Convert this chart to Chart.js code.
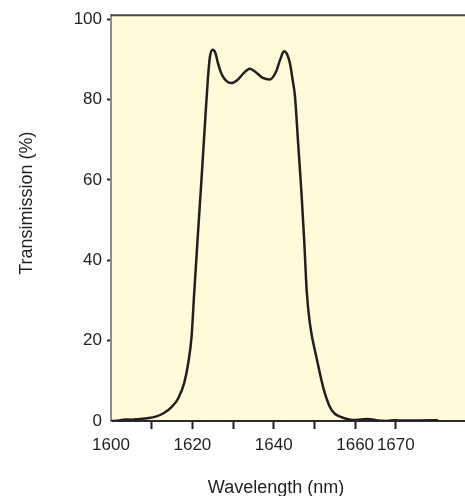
<!DOCTYPE html>
<html>
<head>
<meta charset="utf-8">
<script src="https://cdn.jsdelivr.net/npm/chart.js@4.4.0/dist/chart.umd.min.js"></script>
<style>
  html, body { margin: 0; padding: 0; background: #fff; }
  #wrap { width: 465px; height: 496px; }
</style>
</head>
<body>
<div id="wrap"><canvas id="chart" width="465" height="496"></canvas></div>
<script>
// Values
const wavelength = [
  1600, 1602, 1603.5, 1605, 1607, 1609, 1611, 1613, 1615, 1616.5,
  1618, 1619, 1619.8, 1620.4, 1621.2, 1622.2, 1623, 1623.8, 1624.3, 1625,
  1625.7, 1626.3, 1627.2, 1628.4, 1629.6, 1631, 1632.6, 1634.1, 1635.6, 1637.3,
  1639, 1640.5, 1641.6, 1642.5, 1643.3, 1644, 1644.7, 1645.2, 1646, 1646.8,
  1647.5, 1648.1, 1648.9, 1650.5, 1652.2, 1653.8, 1655, 1656.3, 1658, 1659.6,
  1661.5, 1663.2, 1665.6, 1667.8, 1669.8, 1672, 1676, 1680.4
];
const transmission = [
  0, 0.1, 0.4, 0.3, 0.5, 0.7, 1.1, 2.0, 3.6, 5.6,
  9.5, 14.5, 21, 31, 44, 59.5, 72.5, 85, 90.6, 92.4,
  91.5, 89, 86.3, 84.6, 84.1, 84.8, 86.6, 87.7, 86.8, 85.4,
  85.0, 86.8, 90, 92.0, 91.2, 88.9, 84.5, 81, 69, 57,
  44.6, 32.3, 24.1, 15.8, 8.2, 3.5, 1.8, 1.1, 0.5, 0.25,
  0.4, 0.5, 0.1, 0, 0.2, 0.1, 0.15, 0.2
];
const xTickValues = [1600, 1610, 1620, 1630, 1640, 1650, 1660, 1670];
const xLabelValues = [1600, 1620, 1640, 1660, 1670];
const yTickValues = [0, 20, 40, 60, 80, 100];
const xTitle = "Wavelength (nm)";
const yTitle = "Transimission (%)";

const tinta = "#231f20";
const fuente = "'Liberation Sans', Arial, sans-serif";

// fondo amarillo, borde superior y títulos de ejes
const fondo = {
  id: "fondo",
  beforeDraw(chart) {
    const { ctx, chartArea: a } = chart;
    ctx.save();
    ctx.fillStyle = "#fffad8";
    ctx.fillRect(a.left, a.top, a.right - a.left, a.bottom - a.top);
    ctx.restore();
  },
  afterDraw(chart) {
    const { ctx, chartArea: a } = chart;
    ctx.save();
    ctx.strokeStyle = "#4a4a4a";
    ctx.lineWidth = 2;
    ctx.beginPath();
    ctx.moveTo(a.left, a.top);
    ctx.lineTo(a.right, a.top);
    ctx.stroke();

    ctx.fillStyle = tinta;
    ctx.font = "18px " + fuente;
    ctx.textAlign = "center";
    ctx.textBaseline = "middle";
    ctx.fillText(xTitle, (a.left + a.right) / 2 - 12, 488);
    ctx.translate(27, (a.top + a.bottom) / 2 - 15);
    ctx.rotate(-Math.PI / 2);
    ctx.fillText(yTitle, 0, 0);
    ctx.restore();
  }
};

const puntos = wavelength.map((w, i) => ({ x: w, y: transmission[i] }));

new Chart(document.getElementById("chart").getContext("2d"), {
  type: "line",
  data: {
    datasets: [{
      data: puntos,
      borderColor: tinta,
      borderWidth: 2.5,
      pointRadius: 0,
      fill: false,
      cubicInterpolationMode: "monotone"
    }]
  },
  options: {
    responsive: false,
    animation: false,
    layout: { padding: { top: 11, right: 0, left: 0, bottom: 0 } },
    plugins: { legend: { display: false }, tooltip: { enabled: false } },
    scales: {
      x: {
        type: "linear",
        min: 1600,
        max: 1687,
        afterBuildTicks: s => { s.ticks = xTickValues.map(v => ({ value: v })); },
        afterFit: s => { s.height = 75; },
        grid: {
          drawOnChartArea: false,
          tickLength: 8,
          tickWidth: 2,
          tickColor: c => (c.tick && c.tick.value === 1600) ? "rgba(0,0,0,0)" : tinta
        },
        border: { color: "#2b2b2b", width: 2 },
        ticks: {
          padding: 6,
          color: tinta,
          autoSkip: false,
          maxRotation: 0,
          font: { family: fuente, size: 17 },
          callback: v => xLabelValues.includes(v) ? String(v) : ""
        }
      },
      y: {
        min: 0,
        max: 101,
        afterBuildTicks: s => { s.ticks = yTickValues.map(v => ({ value: v })); },
        afterFit: s => { s.width = 111; },
        grid: {
          drawOnChartArea: false,
          tickLength: 4,
          tickWidth: 2,
          tickColor: c => (c.tick && c.tick.value === 0) ? "rgba(0,0,0,0)" : tinta
        },
        border: { color: "#8c8c8c", width: 2 },
        ticks: {
          padding: 5,
          color: tinta,
          font: { family: fuente, size: 17 }
        }
      }
    }
  },
  plugins: [fondo]
});
</script>
</body>
</html>
